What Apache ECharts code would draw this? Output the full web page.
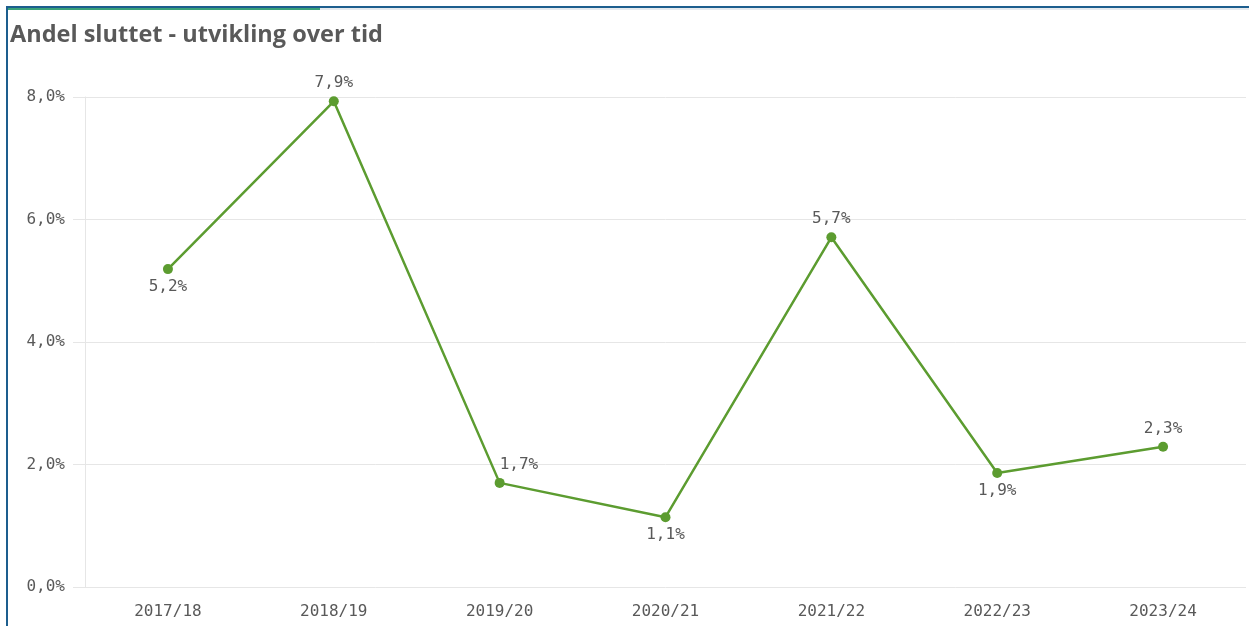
<!DOCTYPE html>
<html>
<head>
<meta charset="utf-8">
<script src="https://cdn.jsdelivr.net/npm/echarts@6/dist/echarts.min.js"></script>
<style>
html,body{margin:0;padding:0;background:#fff;}
#chart{width:1249px;height:626px;}
</style>
</head>
<body>
<div id="chart"></div>
<script>
const titleText = 'Andel sluttet - utvikling over tid';
const categories = ['2017/18','2018/19','2019/20','2020/21','2021/22','2022/23','2023/24'];
const values = [5.19, 7.93, 1.70, 1.14, 5.71, 1.86, 2.29];
const labelPositions = ['bottom','top','right','bottom','top','bottom','top'];
const yTicks = [0, 2, 4, 6, 8];

const fmt = v => v.toFixed(1).replace('.', ',') + '%';
const mono = '"DejaVu Sans Mono", monospace';
const green = '#5c9c30';

const chart = echarts.init(document.getElementById('chart'));
chart.setOption({
  animation: false,
  backgroundColor: '#ffffff',
  title: {
    text: titleText,
    left: 5, top: 18,
    textStyle: {fontFamily: '"Open Sans"', fontWeight: 'bold', fontSize: 23.5, color: '#595959'}
  },
  graphic: [
    {type: 'rect', shape: {x: 6, y: 6, width: 1243, height: 2}, style: {fill: '#1d5e8e'}, silent: true},
    {type: 'rect', shape: {x: 8, y: 8, width: 1241, height: 2}, style: {fill: '#e6eaee'}, silent: true},
    {type: 'rect', shape: {x: 8, y: 8, width: 312, height: 2}, style: {fill: '#3aa17a'}, silent: true},
    {type: 'rect', shape: {x: 6, y: 6, width: 2, height: 620}, style: {fill: '#1d5e8e'}, silent: true}
  ],
  grid: {left: 85, right: 3, top: 97, bottom: 39, containLabel: false},
  xAxis: {
    type: 'category',
    data: categories,
    boundaryGap: true,
    axisLine: {show: false},
    axisTick: {show: false},
    axisLabel: {fontFamily: mono, fontSize: 16, color: '#595959', margin: 17},
    splitLine: {show: false}
  },
  yAxis: {
    type: 'value',
    min: yTicks[0], max: yTicks[yTicks.length - 1], interval: 2,
    axisLine: {show: true, lineStyle: {color: '#e6e6e6', width: 1}},
    axisTick: {show: true, length: 12, lineStyle: {color: '#e6e6e6'}},
    axisLabel: {fontFamily: mono, fontSize: 16, color: '#595959', margin: 20,
      formatter: v => fmt(v)},
    splitLine: {show: true, lineStyle: {color: '#e6e6e6', width: 1}}
  },
  series: [{
    type: 'line',
    data: values.map((v, i) => ({
      value: v,
      label: {position: labelPositions[i], offset: labelPositions[i] === 'right' ? [-10, -18] : [0, 0]}
    })),
    symbol: 'circle',
    symbolSize: 10,
    lineStyle: {color: green, width: 2.5},
    itemStyle: {color: green},
    label: {show: true, fontFamily: mono, fontSize: 16, color: '#595959', distance: 5,
      formatter: p => fmt(p.value)}
  }]
});
</script>
</body>
</html>
